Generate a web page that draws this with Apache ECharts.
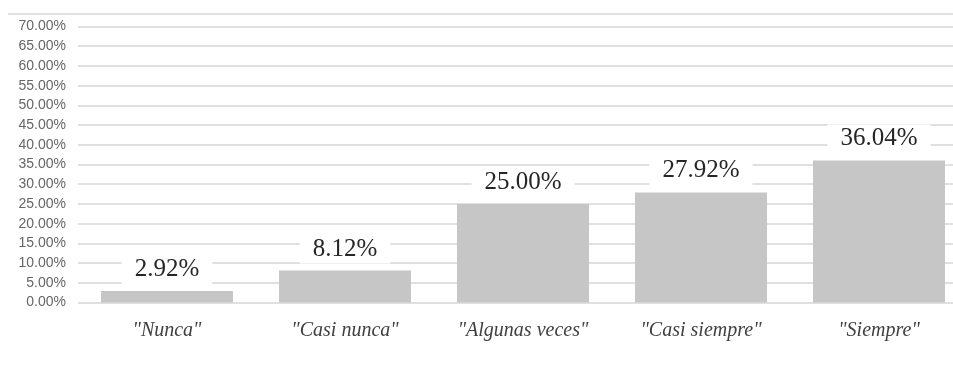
<!DOCTYPE html>
<html>
<head>
<meta charset="utf-8">
<script src="https://cdn.jsdelivr.net/npm/echarts@6/dist/echarts.min.js"></script>
<style>
  html, body { margin: 0; padding: 0; background: #ffffff; overflow: hidden; }
  /* plot area runs past the right edge of the window, so the canvas is a little wider */
  #chart { width: 968px; height: 367px; }
</style>
</head>
<body>
<div id="chart"></div>
<script>
// Response frequencies (percent of answers)
const categories = ['"Nunca"', '"Casi nunca"', '"Algunas veces"', '"Casi siempre"', '"Siempre"'];
const percentages = [2.92, 8.12, 25.00, 27.92, 36.04];

// Value axis range and step
const axisMin = 0;
const axisMax = 70;
const axisStep = 5;

const chart = echarts.init(document.getElementById('chart'), null, { renderer: 'canvas' });

chart.setOption({
  backgroundColor: '#ffffff',
  animation: false,
  grid: { left: 78, right: 0, top: 26.5, height: 276, containLabel: false },
  graphic: [
    {
      type: 'line',
      shape: { x1: 8, y1: 14, x2: 968, y2: 14 },
      style: { stroke: '#e2e2e2', lineWidth: 2 },
      silent: true
    }
  ],
  xAxis: {
    type: 'category',
    data: categories,
    axisLine: { show: false },
    axisTick: { show: false },
    axisLabel: {
      margin: 18,
      color: '#404040',
      fontFamily: '"Liberation Serif", "Times New Roman", serif',
      fontStyle: 'italic',
      fontSize: 20
    }
  },
  yAxis: {
    type: 'value',
    min: axisMin,
    max: axisMax,
    interval: axisStep,
    axisLine: { show: false },
    axisTick: { show: false },
    splitLine: { lineStyle: { color: '#e0e0e0', width: 2 } },
    axisLabel: {
      margin: 12,
      color: '#666666',
      fontFamily: '"Liberation Sans", Arial, sans-serif',
      fontSize: 14,
      formatter: v => v.toFixed(2) + '%'
    }
  },
  series: [
    {
      type: 'bar',
      data: percentages,
      barWidth: 132,
      itemStyle: { color: '#c6c6c6' },
      label: {
        show: true,
        position: 'top',
        distance: 7,
        color: '#262626',
        fontFamily: '"Liberation Serif", "Times New Roman", serif',
        fontSize: 25,
        backgroundColor: '#ffffff',
        padding: [2, 13],
        formatter: p => p.value.toFixed(2) + '%'
      }
    }
  ]
});
</script>
</body>
</html>
